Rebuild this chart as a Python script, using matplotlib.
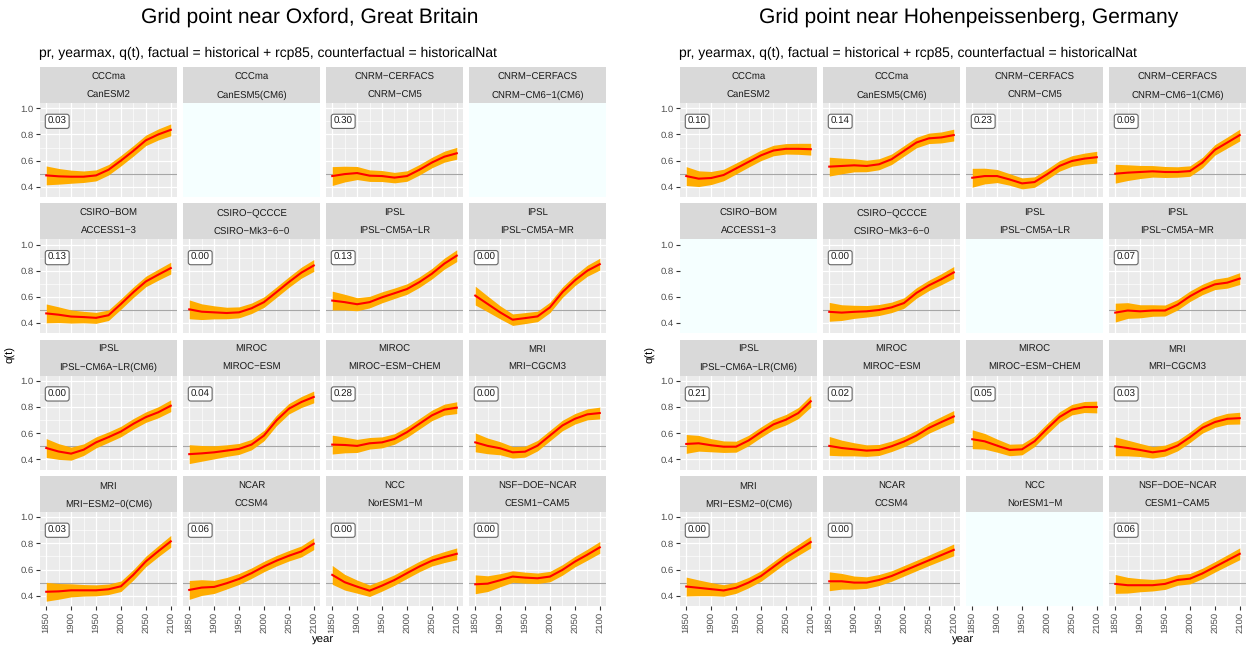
import numpy as np
import matplotlib.pyplot as plt

plt.rcParams['font.family'] = ['Liberation Sans', 'DejaVu Sans']
plt.rcParams['text.hinting'] = 'no_hinting'

W, H = 1250, 647

years = [1850, 1875, 1900, 1925, 1950, 1975, 2000, 2025, 2050, 2075, 2100]
# half width of the uncertainty band
band = [0.072, 0.06, 0.05, 0.044, 0.042, 0.04, 0.04, 0.04, 0.04, 0.042, 0.045]

institutes = ["CCCma", "CCCma", "CNRM\u2212CERFACS", "CNRM\u2212CERFACS",
              "CSIRO\u2212BOM", "CSIRO\u2212QCCCE", "IPSL", "IPSL",
              "IPSL", "MIROC", "MIROC", "MRI",
              "MRI", "NCAR", "NCC", "NSF\u2212DOE\u2212NCAR"]
models = ["CanESM2", "CanESM5(CM6)", "CNRM\u2212CM5", "CNRM\u2212CM6\u22121(CM6)",
          "ACCESS1\u22123", "CSIRO\u2212Mk3\u22126\u22120", "IPSL\u2212CM5A\u2212LR", "IPSL\u2212CM5A\u2212MR",
          "IPSL\u2212CM6A\u2212LR(CM6)", "MIROC\u2212ESM", "MIROC\u2212ESM\u2212CHEM", "MRI\u2212CGCM3",
          "MRI\u2212ESM2\u22120(CM6)", "CCSM4", "NorESM1\u2212M", "CESM1\u2212CAM5"]

# Oxford
ox_canesm2 = [0.487, 0.48, 0.477, 0.477, 0.487, 0.53, 0.60, 0.675, 0.755, 0.80, 0.835]
ox_cnrm_cm5 = [0.482, 0.497, 0.505, 0.485, 0.482, 0.47, 0.482, 0.53, 0.585, 0.63, 0.656]
ox_access13 = [0.474, 0.464, 0.45, 0.446, 0.44, 0.46, 0.546, 0.636, 0.718, 0.77, 0.82]
ox_csiro = [0.505, 0.487, 0.482, 0.477, 0.482, 0.513, 0.56, 0.636, 0.713, 0.785, 0.84]
ox_ipsl_lr = [0.572, 0.56, 0.544, 0.56, 0.597, 0.628, 0.66, 0.713, 0.777, 0.854, 0.915]
ox_ipsl_mr = [0.61, 0.546, 0.482, 0.426, 0.438, 0.451, 0.52, 0.636, 0.726, 0.80, 0.85]
ox_ipsl_cm6 = [0.487, 0.46, 0.444, 0.474, 0.53, 0.57, 0.613, 0.672, 0.723, 0.76, 0.81]
ox_miroc = [0.44, 0.446, 0.454, 0.467, 0.48, 0.513, 0.582, 0.697, 0.787, 0.838, 0.877]
ox_miroc_chem = [0.513, 0.51, 0.503, 0.523, 0.53, 0.556, 0.608, 0.672, 0.736, 0.78, 0.795]
ox_mri_cgcm3 = [0.53, 0.503, 0.485, 0.454, 0.459, 0.505, 0.582, 0.659, 0.71, 0.744, 0.754]
ox_mri_esm2 = [0.43, 0.433, 0.441, 0.441, 0.441, 0.449, 0.472, 0.56, 0.662, 0.74, 0.815]
ox_ccsm4 = [0.444, 0.462, 0.467, 0.495, 0.528, 0.572, 0.623, 0.667, 0.705, 0.738, 0.797]
ox_noresm = [0.559, 0.503, 0.469, 0.438, 0.477, 0.52, 0.572, 0.623, 0.667, 0.695, 0.72]
ox_cesm1 = [0.487, 0.492, 0.518, 0.546, 0.538, 0.533, 0.546, 0.597, 0.66, 0.713, 0.769]

ox_p = ["0.03", None, "0.30", None, "0.13", "0.00", "0.13", "0.00",
        "0.00", "0.04", "0.28", "0.00", "0.03", "0.06", "0.00", "0.00"]

# Hohenpeissenberg
ho_canesm2 = [0.482, 0.462, 0.467, 0.49, 0.54, 0.59, 0.64, 0.677, 0.69, 0.69, 0.687]
ho_canesm5 = [0.554, 0.559, 0.564, 0.559, 0.572, 0.61, 0.674, 0.738, 0.77, 0.777, 0.795]
ho_cnrm_cm5 = [0.469, 0.482, 0.482, 0.456, 0.426, 0.436, 0.495, 0.559, 0.597, 0.615, 0.626]
ho_cnrm_cm6 = [0.50, 0.508, 0.513, 0.518, 0.513, 0.513, 0.52, 0.585, 0.682, 0.738, 0.795]
ho_csiro = [0.486, 0.48, 0.486, 0.49, 0.50, 0.52, 0.553, 0.63, 0.688, 0.735, 0.787]
ho_ipsl_mr = [0.48, 0.496, 0.49, 0.496, 0.496, 0.54, 0.605, 0.657, 0.696, 0.709, 0.74]
ho_ipsl_cm6 = [0.518, 0.523, 0.508, 0.497, 0.497, 0.544, 0.608, 0.667, 0.703, 0.754, 0.844]
ho_miroc = [0.503, 0.487, 0.477, 0.467, 0.472, 0.50, 0.536, 0.582, 0.64, 0.685, 0.728]
ho_miroc_chem = [0.554, 0.538, 0.505, 0.472, 0.477, 0.538, 0.633, 0.723, 0.78, 0.80, 0.80]
ho_mri_cgcm3 = [0.50, 0.487, 0.472, 0.454, 0.467, 0.505, 0.569, 0.641, 0.685, 0.71, 0.715]
ho_mri_esm2 = [0.47, 0.46, 0.45, 0.44, 0.46, 0.50, 0.55, 0.62, 0.69, 0.75, 0.81]
ho_ccsm4 = [0.51, 0.51, 0.50, 0.50, 0.52, 0.55, 0.59, 0.63, 0.67, 0.71, 0.75]
ho_cesm1 = [0.49, 0.48, 0.48, 0.48, 0.49, 0.52, 0.53, 0.57, 0.62, 0.67, 0.72]

ho_p = ["0.10", "0.14", "0.23", "0.09", None, "0.00", None, "0.07",
        "0.21", "0.02", "0.05", "0.03", "0.00", "0.00", None, "0.06"]

ox_q = [ox_canesm2, None, ox_cnrm_cm5, None, ox_access13, ox_csiro, ox_ipsl_lr, ox_ipsl_mr,
        ox_ipsl_cm6, ox_miroc, ox_miroc_chem, ox_mri_cgcm3, ox_mri_esm2, ox_ccsm4, ox_noresm, ox_cesm1]
ho_q = [ho_canesm2, ho_canesm5, ho_cnrm_cm5, ho_cnrm_cm6, None, ho_csiro, None, ho_ipsl_mr,
        ho_ipsl_cm6, ho_miroc, ho_miroc_chem, ho_mri_cgcm3, ho_mri_esm2, ho_ccsm4, None, ho_cesm1]

x_ticks = [1850, 1900, 1950, 2000, 2050, 2100]
y_ticks = [0.4, 0.6, 0.8, 1.0]

fig = plt.figure(figsize=(W / 100, H / 100), dpi=100)


def rect(x0, y0, w, h):
    return [x0 / W, 1 - (y0 + h) / H, w / W, h / H]


def draw_block(left, title_x, title, q, pvals):
    col_w, col_pitch = 137, 143
    strip_h, panel_h, row_pitch, top = 36, 94, 136.3, 67
    right = left + 3 * col_pitch + col_w
    fig.text(title_x / W, 1 - 17 / H, title, ha='center', va='center', fontsize=15.1)
    fig.text((left - 1) / W, 1 - 53 / H,
             "pr, yearmax, q(t), factual = historical + rcp85, counterfactual = historicalNat",
             ha='left', va='center', fontsize=10.0)
    for i in range(16):
        r, c = divmod(i, 4)
        x0 = left + c * col_pitch
        y0 = top + r * row_pitch
        sax = fig.add_axes(rect(x0, y0, col_w, strip_h))
        sax.set_facecolor('#D9D9D9')
        sax.set_xticks([])
        sax.set_yticks([])
        for s in sax.spines.values():
            s.set_visible(False)
        sax.text(0.5, 0.72, institutes[i], ha='center', va='center', fontsize=6.9, color='#1A1A1A')
        sax.text(0.5, 0.22, models[i], ha='center', va='center', fontsize=6.9, color='#1A1A1A')

        ax = fig.add_axes(rect(x0, y0 + strip_h, col_w, panel_h))
        ax.set_xlim(1837.5, 2112.5)
        ax.set_ylim(0.322, 1.04)
        for s in ax.spines.values():
            s.set_visible(False)
        ax.set_xticks(x_ticks)
        ax.set_yticks(y_ticks)
        ax.tick_params(length=3, width=0.8, color='#333333', labelsize=6.8,
                       labelcolor='#4D4D4D', pad=1.5)
        ax.tick_params(axis='x', labelrotation=90)
        if c > 0:
            ax.tick_params(axis='y', left=False, labelleft=False)
        if r < 3:
            ax.tick_params(axis='x', bottom=False, labelbottom=False)
        vals = q[i]
        if vals is None:
            ax.set_facecolor('#F5FFFF')
            continue
        ax.set_facecolor('#EBEBEB')
        ax.set_xticks([1875, 1925, 1975, 2025, 2075], minor=True)
        ax.set_yticks([0.5, 0.7, 0.9], minor=True)
        ax.tick_params(which='minor', length=0)
        ax.grid(True, which='major', color='white', lw=0.9)
        ax.grid(True, which='minor', color='white', lw=0.45)
        ax.set_axisbelow(True)
        v = np.array(vals)
        b = np.array(band)
        ax.axhline(0.5, color='#A6A6A6', lw=0.8, zorder=1)
        ax.fill_between(years, v - b, v + b, color='#FFAD00', lw=0, zorder=2)
        ax.plot(years, v, color='#FF0000', lw=1.5, zorder=3)
        if pvals[i] is not None:
            ax.text(1853, 0.9, pvals[i], ha='left', va='center', fontsize=7.0, color='#1A1A1A',
                    bbox=dict(boxstyle='round,pad=0.25,rounding_size=0.25', fc='white',
                              ec='#666666', lw=0.8), zorder=4)
    fig.text((left - 30) / W, 1 - 354 / H, "q(t)", rotation=90, ha='center', va='center', fontsize=8.2)
    fig.text((left + right) / 2 / W, 1 - 640 / H, "year", ha='center', va='center', fontsize=8.2)


draw_block(40, 310, "Grid point near Oxford, Great Britain", ox_q, ox_p)
draw_block(680, 969, "Grid point near Hohenpeissenberg, Germany", ho_q, ho_p)

fig.savefig("out.png", dpi=100)
